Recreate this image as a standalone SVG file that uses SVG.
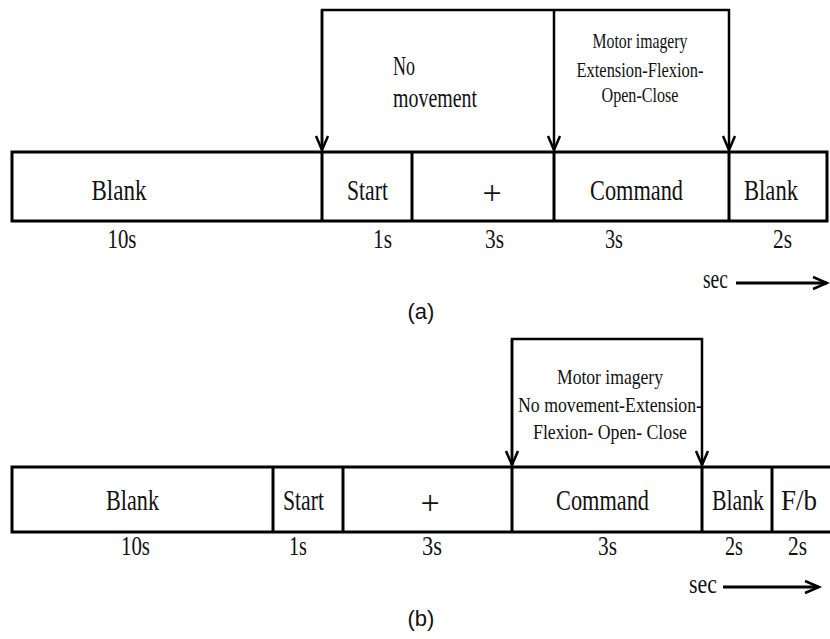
<svg xmlns="http://www.w3.org/2000/svg" width="830" height="639" viewBox="0 0 830 639">
<style>
.box{fill:#fff;stroke:#000;stroke-width:3}
.div{stroke:#000;stroke-width:3}
.con{fill:none;stroke:#000;stroke-width:2.5}
.t{font-family:"Liberation Serif","Times New Roman",serif;fill:#111;text-anchor:middle}
.big{font-size:30px}
.plus{font-size:34px}
.dur{font-size:28px}
.sm{font-size:21px}
.cap{font-family:"Liberation Sans",Arial,sans-serif;font-size:22px;fill:#111;text-anchor:middle}
</style>
<defs>
<marker id="ah" markerUnits="userSpaceOnUse" markerWidth="16" markerHeight="16" viewBox="-1 -1 16 16" refX="14" refY="6" orient="auto" overflow="visible">
<path d="M0,0 L14,6 L0,12" fill="none" stroke="#000" stroke-width="2.5"/>
</marker>
</defs>

<g id="timeline-a">
<rect class="box" x="12" y="152" width="815" height="69"/>
<line class="div" x1="322" y1="152" x2="322" y2="221"/>
<line class="div" x1="412" y1="152" x2="412" y2="221"/>
<line class="div" x1="554" y1="152" x2="554" y2="221"/>
<line class="div" x1="729" y1="152" x2="729" y2="221"/>
</g>
<g id="a-blank1"><text class="t big" x="119" y="200" textLength="55" lengthAdjust="spacingAndGlyphs">Blank</text></g>
<g id="a-start"><text class="t big" x="367.5" y="200" textLength="41" lengthAdjust="spacingAndGlyphs">Start</text></g>
<g id="a-plus"><text class="t plus" x="492" y="204">+</text></g>
<g id="a-command"><text class="t big" x="636.5" y="200" textLength="93" lengthAdjust="spacingAndGlyphs">Command</text></g>
<g id="a-blank2"><text class="t big" x="771" y="200" textLength="54" lengthAdjust="spacingAndGlyphs">Blank</text></g>
<g id="a-durations">
<text class="t dur" x="122" y="248" textLength="29" lengthAdjust="spacingAndGlyphs">10s</text>
<text class="t dur" x="382.5" y="248" textLength="19" lengthAdjust="spacingAndGlyphs">1s</text>
<text class="t dur" x="494.5" y="248" textLength="19" lengthAdjust="spacingAndGlyphs">3s</text>
<text class="t dur" x="614" y="248" textLength="18" lengthAdjust="spacingAndGlyphs">3s</text>
<text class="t dur" x="782.5" y="248" textLength="19" lengthAdjust="spacingAndGlyphs">2s</text>
</g>
<g id="a-nomove">
<text class="t dur" x="393" y="75" style="text-anchor:start" textLength="22" lengthAdjust="spacingAndGlyphs">No</text>
<text class="t dur" x="393" y="107" style="text-anchor:start" textLength="84" lengthAdjust="spacingAndGlyphs">movement</text>
</g>
<g id="a-motor">
<text class="t sm" x="640" y="48" textLength="95" lengthAdjust="spacingAndGlyphs">Motor imagery</text>
<text class="t sm" x="640" y="77" textLength="127" lengthAdjust="spacingAndGlyphs">Extension-Flexion-</text>
<text class="t sm" x="640" y="102" textLength="77" lengthAdjust="spacingAndGlyphs">Open-Close</text>
</g>
<g id="a-sec"><text class="t dur" x="715.5" y="288" textLength="25" lengthAdjust="spacingAndGlyphs">sec</text></g>
<g id="a-label"><text class="cap" x="421" y="319">(a)</text></g>

<g id="timeline-b">
<rect class="box" x="12" y="467" width="822" height="65"/>
<line class="div" x1="273" y1="467" x2="273" y2="532"/>
<line class="div" x1="343" y1="467" x2="343" y2="532"/>
<line class="div" x1="512" y1="467" x2="512" y2="532"/>
<line class="div" x1="702" y1="467" x2="702" y2="532"/>
<line class="div" x1="772" y1="467" x2="772" y2="532"/>
</g>
<g id="b-blank1"><text class="t big" x="132.5" y="510" textLength="53" lengthAdjust="spacingAndGlyphs">Blank</text></g>
<g id="b-start"><text class="t big" x="303.5" y="510" textLength="41" lengthAdjust="spacingAndGlyphs">Start</text></g>
<g id="b-plus"><text class="t plus" x="430" y="514">+</text></g>
<g id="b-command"><text class="t big" x="602.5" y="510" textLength="93" lengthAdjust="spacingAndGlyphs">Command</text></g>
<g id="b-blank2"><text class="t big" x="738" y="510" textLength="52" lengthAdjust="spacingAndGlyphs">Blank</text></g>
<g id="b-fb"><text class="t big" x="799" y="510" textLength="36" lengthAdjust="spacingAndGlyphs">F/b</text></g>
<g id="b-durations">
<text class="t dur" x="135.5" y="555" textLength="29" lengthAdjust="spacingAndGlyphs">10s</text>
<text class="t dur" x="298" y="555" textLength="18" lengthAdjust="spacingAndGlyphs">1s</text>
<text class="t dur" x="432" y="555" textLength="20" lengthAdjust="spacingAndGlyphs">3s</text>
<text class="t dur" x="607.5" y="555" textLength="19" lengthAdjust="spacingAndGlyphs">3s</text>
<text class="t dur" x="734" y="555" textLength="18" lengthAdjust="spacingAndGlyphs">2s</text>
<text class="t dur" x="797.5" y="555" textLength="19" lengthAdjust="spacingAndGlyphs">2s</text>
</g>
<g id="b-motor">
<text class="t sm" x="610" y="384" textLength="106" lengthAdjust="spacingAndGlyphs">Motor imagery</text>
<text class="t sm" x="610" y="412" textLength="184" lengthAdjust="spacingAndGlyphs">No movement-Extension-</text>
<text class="t sm" x="610" y="439" textLength="154" lengthAdjust="spacingAndGlyphs">Flexion- Open- Close</text>
</g>
<g id="b-sec"><text class="t dur" x="703" y="593" textLength="28" lengthAdjust="spacingAndGlyphs">sec</text></g>
<g id="b-label"><text class="cap" x="421" y="626">(b)</text></g>

<g id="connectors">
<polyline class="con" points="322,150 322,10 729,10 729,150" marker-end="url(#ah)"/>
<line class="con" x1="322" y1="10" x2="322" y2="150" marker-end="url(#ah)"/>
<line class="con" x1="554" y1="10" x2="554" y2="150" marker-end="url(#ah)"/>
<polyline class="con" points="512,465 512,339 702,339 702,465" marker-end="url(#ah)"/>
<line class="con" x1="512" y1="339" x2="512" y2="465" marker-end="url(#ah)"/>
<line class="con" x1="736" y1="283" x2="827" y2="283" marker-end="url(#ah)" style="stroke-width:3"/>
<line class="con" x1="723" y1="587" x2="819" y2="587" marker-end="url(#ah)" style="stroke-width:3"/>
</g>
</svg>
